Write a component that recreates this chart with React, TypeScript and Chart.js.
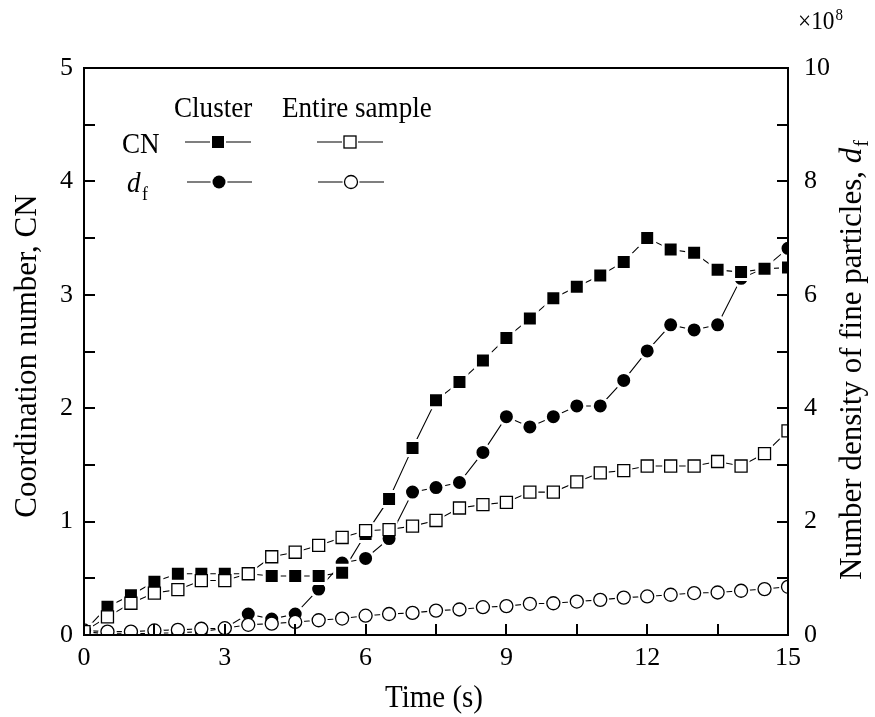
import React, { useEffect, useRef } from 'react';
import { Chart, registerables } from 'chart.js';

Chart.register(...registerables);

// ---- data ----
const timeS = [0, 0.5, 1, 1.5, 2, 2.5, 3, 3.5, 4, 4.5, 5, 5.5, 6, 6.5, 7, 7.5, 8, 8.5, 9, 9.5, 10, 10.5, 11, 11.5, 12, 12.5, 13, 13.5, 14, 14.5, 15];
// Coordination number, cluster (filled squares, left axis)
const cnCluster = [0.03, 0.25, 0.35, 0.47, 0.54, 0.54, 0.54, 0.54, 0.52, 0.52, 0.52, 0.55, 0.89, 1.2, 1.65, 2.07, 2.23, 2.42, 2.62, 2.79, 2.97, 3.07, 3.17, 3.29, 3.5, 3.4, 3.37, 3.22, 3.2, 3.23, 3.24];
// Coordination number, entire sample (open squares, left axis)
const cnEntire = [0.03, 0.16, 0.28, 0.37, 0.4, 0.48, 0.48, 0.54, 0.69, 0.73, 0.79, 0.86, 0.92, 0.93, 0.96, 1.01, 1.12, 1.15, 1.17, 1.26, 1.26, 1.35, 1.43, 1.45, 1.49, 1.49, 1.49, 1.53, 1.49, 1.6, 1.8];
// Number density of fine particles, cluster (filled circles, right axis, x10^8)
const dfCluster = [0.06, 0.02, 0.02, 0.03, 0.04, 0.06, 0.12, 0.37, 0.28, 0.37, 0.81, 1.27, 1.35, 1.7, 2.52, 2.6, 2.69, 3.22, 3.85, 3.67, 3.85, 4.04, 4.04, 4.49, 5.01, 5.47, 5.38, 5.47, 6.29, 6.47, 6.82];
// Number density of fine particles, entire sample (open circles, right axis, x10^8)
const dfEntire = [0.08, 0.06, 0.06, 0.08, 0.09, 0.11, 0.12, 0.18, 0.2, 0.23, 0.26, 0.29, 0.34, 0.37, 0.39, 0.43, 0.45, 0.49, 0.51, 0.55, 0.56, 0.59, 0.62, 0.66, 0.68, 0.71, 0.74, 0.75, 0.78, 0.81, 0.85];

const xTicks = [0, 3, 6, 9, 12, 15];
const xMinorTicks = [0, 1.5, 3, 4.5, 6, 7.5, 9, 10.5, 12, 13.5, 15];
const yLeftTicks = [0, 1, 2, 3, 4, 5];
const yLeftMinorTicks = [0, 0.5, 1, 1.5, 2, 2.5, 3, 3.5, 4, 4.5, 5];
const yRightTicks = [0, 2, 4, 6, 8, 10];
const yRightMinorTicks = [0, 1, 2, 3, 4, 5, 6, 7, 8, 9, 10];

const xTitle = 'Time (s)';
const yLeftTitle = 'Coordination number, CN';
const yRightTitleMain = 'Number density of fine particles, ';
const yRightTitleSym = 'd';
const yRightTitleSub = 'f';
const legendHeadCluster = 'Cluster';
const legendHeadEntire = 'Entire sample';
const legendRowCN = 'CN';

const FONT = "'Liberation Serif', 'Times New Roman', serif";
const SQ = 0.935; // horizontal condensation seen in the reference

const toXY = (arr: number[]) => timeS.map((t, i) => ({ x: t, y: arr[i] }));

const decorPlugin = {
  id: 'decor',
  afterDatasetsDraw(chart: any) {
    const { ctx, chartArea: a, scales } = chart;
    const x = scales.x, yl = scales.y, yr = scales.y1;
    ctx.save();
    ctx.strokeStyle = '#000';
    ctx.lineWidth = 2;
    ctx.strokeRect(a.left, a.top, a.right - a.left, a.bottom - a.top);
    const TL = 11;
    ctx.beginPath();
    xMinorTicks.forEach((v) => {
      const px = Math.round(x.getPixelForValue(v));
      ctx.moveTo(px, a.bottom);
      ctx.lineTo(px, a.bottom - TL);
    });
    yLeftMinorTicks.forEach((v) => {
      const py = Math.round(yl.getPixelForValue(v));
      ctx.moveTo(a.left, py);
      ctx.lineTo(a.left + TL, py);
    });
    yRightMinorTicks.forEach((v) => {
      const py = Math.round(yr.getPixelForValue(v));
      ctx.moveTo(a.right, py);
      ctx.lineTo(a.right - TL, py);
    });
    ctx.stroke();
    ctx.restore();
  },
  afterDraw(chart: any) {
    const { ctx } = chart;
    ctx.save();
    ctx.fillStyle = '#000';
    // x title
    ctx.font = `31px ${FONT}`;
    ctx.textAlign = 'center';
    ctx.textBaseline = 'alphabetic';
    ctx.save();
    ctx.translate(434, 707);
    ctx.scale(SQ, 1);
    ctx.fillText(xTitle, 0, 0);
    ctx.restore();

    // left title
    ctx.save();
    ctx.translate(36, 356);
    ctx.rotate(-Math.PI / 2);
    ctx.font = `31px ${FONT}`;
    ctx.textAlign = 'center';
    ctx.fillText(yLeftTitle, 0, 0);
    ctx.restore();

    // right title with italic d and subscript f
    ctx.save();
    ctx.translate(861, 360);
    ctx.rotate(-Math.PI / 2);
    ctx.textAlign = 'left';
    ctx.font = `31px ${FONT}`;
    const w1 = ctx.measureText(yRightTitleMain).width;
    ctx.font = `italic 31px ${FONT}`;
    const w2 = ctx.measureText(yRightTitleSym).width;
    ctx.font = `20px ${FONT}`;
    const w3 = ctx.measureText(yRightTitleSub).width;
    let sx = -(w1 + w2 + w3 + 1) / 2;
    ctx.font = `31px ${FONT}`;
    ctx.fillText(yRightTitleMain, sx, 0);
    sx += w1;
    ctx.font = `italic 31px ${FONT}`;
    ctx.fillText(yRightTitleSym, sx, 0);
    sx += w2 + 1;
    ctx.font = `20px ${FONT}`;
    ctx.fillText(yRightTitleSub, sx, 7);
    ctx.restore();

    // x10^8
    ctx.save();
    ctx.textAlign = 'left';
    ctx.translate(798, 29);
    ctx.scale(SQ, 1);
    ctx.font = `25px ${FONT}`;
    ctx.fillText('\u00d710', 0, 0);
    const wx = ctx.measureText('\u00d710').width;
    ctx.font = `16px ${FONT}`;
    ctx.fillText('8', wx + 1, -9);
    ctx.restore();

    // legend
    const txt = (s: string, px: number, py: number, font: string) => {
      ctx.save();
      ctx.translate(px, py);
      ctx.scale(SQ, 1);
      ctx.font = font;
      ctx.textAlign = 'left';
      ctx.fillText(s, 0, 0);
      ctx.restore();
    };
    txt(legendHeadCluster, 174, 117, `29px ${FONT}`);
    txt(legendHeadEntire, 282, 117, `29px ${FONT}`);
    txt(legendRowCN, 122, 153, `29px ${FONT}`);
    txt(yRightTitleSym, 127, 192, `italic 29px ${FONT}`);
    txt(yRightTitleSub, 142, 200, `19px ${FONT}`);

    const seg = (x1: number, x2: number, y: number) => {
      ctx.beginPath();
      ctx.lineWidth = 1.1;
      ctx.strokeStyle = '#000';
      ctx.moveTo(x1, y);
      ctx.lineTo(x2, y);
      ctx.stroke();
    };
    // CN rows
    seg(185, 251, 142);
    ctx.fillStyle = '#fff';
    ctx.fillRect(210, 134, 16, 16);
    ctx.fillStyle = '#000';
    ctx.fillRect(212, 136, 12, 12);
    seg(317, 383, 142);
    ctx.fillStyle = '#fff';
    ctx.fillRect(342, 134, 16, 16);
    ctx.lineWidth = 1.3;
    ctx.strokeStyle = '#000';
    ctx.strokeRect(344, 136, 12, 12);
    // d_f rows
    seg(187, 252, 182);
    ctx.fillStyle = '#fff';
    ctx.beginPath();
    ctx.arc(219, 182, 8.5, 0, Math.PI * 2);
    ctx.fill();
    ctx.fillStyle = '#000';
    ctx.beginPath();
    ctx.arc(219, 182, 6.5, 0, Math.PI * 2);
    ctx.fill();
    seg(318, 384, 182);
    ctx.fillStyle = '#fff';
    ctx.beginPath();
    ctx.arc(351, 182, 8.5, 0, Math.PI * 2);
    ctx.fill();
    ctx.lineWidth = 1.3;
    ctx.strokeStyle = '#000';
    ctx.beginPath();
    ctx.arc(351, 182, 6.5, 0, Math.PI * 2);
    ctx.stroke();
    ctx.restore();
  },
};

export default function App() {
  const ref = useRef<HTMLCanvasElement | null>(null);
  useEffect(() => {
    if (!ref.current) return;
    const lineDs = (arr: number[], axis: string) => ({
      data: toXY(arr),
      yAxisID: axis,
      borderColor: '#000',
      borderWidth: 1.1,
      pointRadius: 0,
      pointHoverRadius: 0,
      fill: false,
      tension: 0,
      order: 4,
    });
    const markDs = (arr: number[], axis: string, o: any) => ({
      data: toXY(arr),
      yAxisID: axis,
      showLine: false,
      pointHoverRadius: o.pointRadius,
      ...o,
    });
    const chart = new Chart(ref.current, {
      type: 'line',
      data: {
        datasets: [
          lineDs(cnCluster, 'y'),
          lineDs(cnEntire, 'y'),
          lineDs(dfCluster, 'y1'),
          lineDs(dfEntire, 'y1'),
          markDs(cnEntire, 'y', { order: 3, pointStyle: 'rect', pointRadius: 12, pointBackgroundColor: '#fff', pointBorderWidth: 0, pointBorderColor: '#fff' }),
          markDs(dfEntire, 'y1', { order: 3, pointStyle: 'circle', pointRadius: 9, pointBackgroundColor: '#fff', pointBorderWidth: 0, pointBorderColor: '#fff' }),
          markDs(cnCluster, 'y', { order: 2, pointStyle: 'rect', pointRadius: 10.6, pointBackgroundColor: '#000', pointBorderWidth: 3, pointBorderColor: '#fff' }),
          markDs(dfCluster, 'y1', { order: 2, pointStyle: 'circle', pointRadius: 8, pointBackgroundColor: '#000', pointBorderWidth: 3, pointBorderColor: '#fff' }),
          markDs(cnEntire, 'y', { order: 1, pointStyle: 'rect', pointRadius: 8.5, pointBackgroundColor: '#fff', pointBorderWidth: 1.3, pointBorderColor: '#000' }),
          markDs(dfEntire, 'y1', { order: 1, pointStyle: 'circle', pointRadius: 6.5, pointBackgroundColor: '#fff', pointBorderWidth: 1.3, pointBorderColor: '#000' }),
        ],
      },
      options: {
        responsive: false,
        animation: false,
        events: [],
        layout: { padding: { top: 68, left: 0, right: 0, bottom: 0 } },
        plugins: { legend: { display: false }, tooltip: { enabled: false }, title: { display: false } },
        scales: {
          x: {
            type: 'linear',
            min: 0,
            max: 15,
            grid: { display: false, drawTicks: false },
            border: { display: false },
            afterBuildTicks: (s: any) => { s.ticks = xTicks.map((v) => ({ value: v })); },
            afterFit: (s: any) => { s.height = 82; },
            ticks: { color: '#000', font: { family: FONT, size: 26 }, padding: 8, maxRotation: 0, autoSkip: false },
          },
          y: {
            type: 'linear',
            position: 'left',
            min: 0,
            max: 5,
            grid: { display: false, drawTicks: false },
            border: { display: false },
            afterBuildTicks: (s: any) => { s.ticks = yLeftTicks.map((v) => ({ value: v })); },
            afterFit: (s: any) => { s.width = 84; },
            ticks: { color: '#000', font: { family: FONT, size: 26 }, padding: 11 },
          },
          y1: {
            type: 'linear',
            position: 'right',
            min: 0,
            max: 10,
            grid: { display: false, drawTicks: false },
            border: { display: false },
            afterBuildTicks: (s: any) => { s.ticks = yRightTicks.map((v) => ({ value: v })); },
            afterFit: (s: any) => { s.width = 87; },
            ticks: { color: '#000', font: { family: FONT, size: 26 }, padding: 16 },
          },
        },
      } as any,
      plugins: [decorPlugin],
    });
    return () => chart.destroy();
  }, []);
  return (
    <div style={{ position: 'fixed', left: 0, top: 0, width: 875, height: 717, background: '#fff' }}>
      <canvas ref={ref} width={875} height={717} style={{ display: 'block' }} />
    </div>
  );
}
